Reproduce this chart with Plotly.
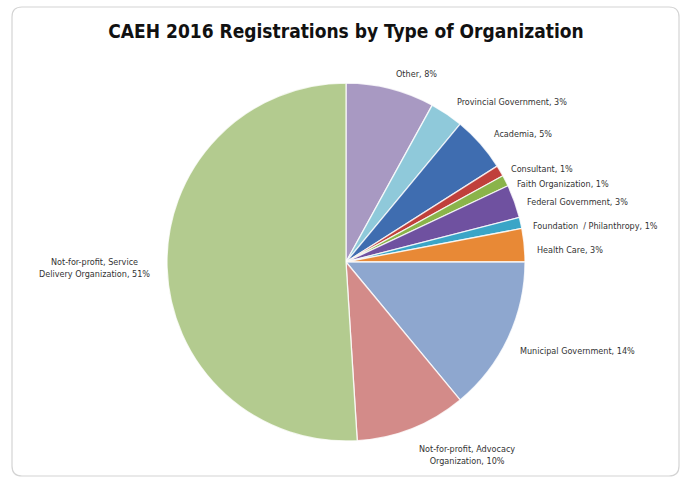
import math
import plotly.graph_objects as go

W, H = 682, 478

categories = [
    "Other",
    "Provincial Government",
    "Academia",
    "Consultant",
    "Faith Organization",
    "Federal Government",
    "Foundation  / Philanthropy",
    "Health Care",
    "Municipal Government",
    "Not-for-profit, Advocacy Organization",
    "Not-for-profit, Service Delivery Organization",
]
display_labels = [
    "Other",
    "Provincial Government",
    "Academia",
    "Consultant",
    "Faith Organization",
    "Federal Government",
    "Foundation  / Philanthropy",
    "Health Care",
    "Municipal Government",
    "Not-for-profit, Advocacy<br>Organization",
    "Not-for-profit, Service<br>Delivery Organization",
]
percentages = [8, 3, 5, 1, 1, 3, 1, 3, 14, 10, 51]
colors = [
    "#A899C2", "#8FC9DA", "#3F6DB0", "#C0403B", "#8AB44A", "#6F51A0",
    "#3AA5C7", "#E88936", "#8EA7CF", "#D38B89", "#B3CB8F",
]

FONT = "DejaVu Sans Condensed, Liberation Sans Narrow, Arial Narrow, sans-serif"


def px_x(x):
    return x / W


def px_y(y):
    return 1 - y / H


# pie geometry in pixels
cx, cy, r = 346, 262, 179
label_gap = 15
min_spacing = 15

fig = go.Figure(
    go.Pie(
        labels=categories,
        values=percentages,
        textinfo="none",
        sort=False,
        direction="clockwise",
        rotation=0,
        marker=dict(colors=colors, line=dict(color="rgba(255,255,255,0.8)", width=1.3)),
        domain=dict(x=[px_x(cx - r), px_x(cx + r)], y=[px_y(cy + r), px_y(cy - r)]),
        showlegend=False,
        hoverinfo="label+percent",
    )
)

# data labels placed just outside each slice (angles derived from the values)
total = sum(percentages)
placements = []
cum = 0
for lab, val in zip(display_labels, percentages):
    mid = (cum + val / 2) / total * 2 * math.pi
    cum += val
    s, c = math.sin(mid), math.cos(mid)
    R = r + label_gap
    lx = cx + R * s - (4 if s > 0.8 else 0)
    ly = cy - R * c + (6 if s > 0.8 else 0)
    if s > 0.2:
        xa = "left"
    elif s < -0.2:
        xa = "right"
    else:
        xa = "center"
    ya = "top" if c < -0.9 else "middle"
    placements.append([lab, val, lx, ly, xa, ya, s])

# simple collision avoidance on the right-hand side (top to bottom)
right = [p for p in placements if p[6] > 0 and p[5] == "middle"]
right.sort(key=lambda p: p[3])
for i in range(1, len(right)):
    if right[i][3] - right[i - 1][3] < min_spacing:
        right[i][3] = right[i - 1][3] + min_spacing

annotations = []
for lab, val, lx, ly, xa, ya, s in placements:
    annotations.append(
        dict(
            x=px_x(lx), y=px_y(ly), xref="paper", yref="paper",
            text=f"{lab}, {val}%", showarrow=False,
            xanchor=xa, yanchor=ya, align="center",
            font=dict(family=FONT, size=9, color="#333333"),
        )
    )

# rounded chart frame
x0, y0, x1, y1, rr = 12, 7, 679, 476, 10
path = (
    f"M {px_x(x0 + rr)} {px_y(y0)} L {px_x(x1 - rr)} {px_y(y0)} "
    f"Q {px_x(x1)} {px_y(y0)} {px_x(x1)} {px_y(y0 + rr)} "
    f"L {px_x(x1)} {px_y(y1 - rr)} Q {px_x(x1)} {px_y(y1)} {px_x(x1 - rr)} {px_y(y1)} "
    f"L {px_x(x0 + rr)} {px_y(y1)} Q {px_x(x0)} {px_y(y1)} {px_x(x0)} {px_y(y1 - rr)} "
    f"L {px_x(x0)} {px_y(y0 + rr)} Q {px_x(x0)} {px_y(y0)} {px_x(x0 + rr)} {px_y(y0)} Z"
)

fig.update_layout(
    width=W,
    height=H,
    margin=dict(l=0, r=0, t=0, b=0),
    paper_bgcolor="white",
    plot_bgcolor="white",
    title=dict(
        text="<b>CAEH 2016 Registrations by Type of Organization</b>",
        x=px_x(346),
        xanchor="center",
        y=px_y(31),
        yanchor="middle",
        font=dict(family=FONT, size=19, color="#111111"),
    ),
    annotations=annotations,
    shapes=[
        dict(type="path", xref="paper", yref="paper", path=path,
             line=dict(color="#D4D4D4", width=1.2), fillcolor="rgba(0,0,0,0)", layer="below"),
    ],
)

fig.write_html("out.html")
